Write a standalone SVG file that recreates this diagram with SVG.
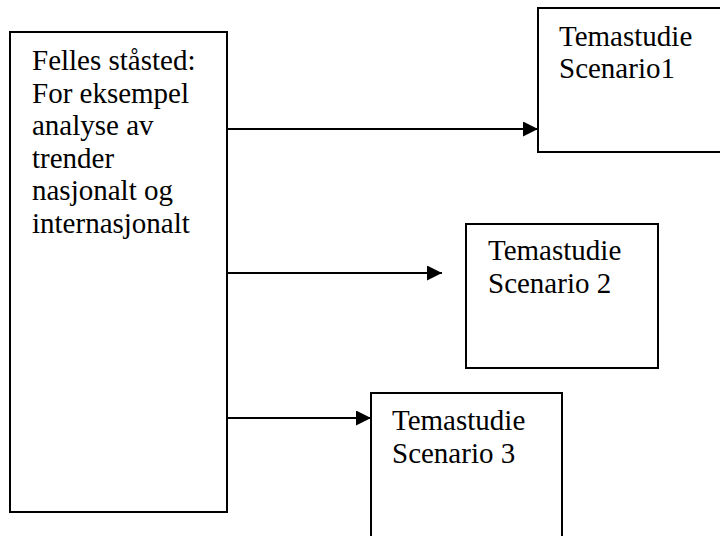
<svg xmlns="http://www.w3.org/2000/svg" width="720" height="536" viewBox="0 0 720 536">
<defs>
<style>
.box{fill:#fff;stroke:#000;stroke-width:2}
.t{font-family:"Liberation Serif","Times New Roman",serif;font-size:29px;fill:#000}
.c{stroke:#000;stroke-width:2;fill:none}
</style>
<marker id="ah" markerUnits="userSpaceOnUse" markerWidth="15" markerHeight="15" refX="15" refY="7.5" orient="auto">
<path d="M0,0 L15,7.5 L0,15 Z" fill="#000"/>
</marker>
</defs>
<rect width="720" height="536" fill="#fff"/>
<g id="node-main">
<rect class="box" x="10" y="32" width="217" height="480"/>
<text class="t"><tspan x="32" y="70">Felles ståsted:</tspan><tspan x="32" y="102.5">For eksempel</tspan><tspan x="32" y="135">analyse av</tspan><tspan x="32" y="167.5">trender</tspan><tspan x="32" y="200">nasjonalt og</tspan><tspan x="32" y="232.5">internasjonalt</tspan></text>
</g>
<g id="node-s1">
<rect class="box" x="538" y="8" width="190" height="144"/>
<text class="t"><tspan x="559" y="46">Temastudie</tspan><tspan x="559" y="78">Scenario1</tspan></text>
</g>
<g id="node-s2">
<rect class="box" x="466" y="224" width="192" height="144"/>
<text class="t"><tspan x="488" y="260">Temastudie</tspan><tspan x="488" y="293">Scenario 2</tspan></text>
</g>
<g id="node-s3">
<rect class="box" x="371" y="393" width="191" height="160"/>
<text class="t"><tspan x="392" y="430">Temastudie</tspan><tspan x="392" y="463">Scenario 3</tspan></text>
</g>
<g id="connectors">
<line class="c" x1="227" y1="129" x2="538" y2="129" marker-end="url(#ah)"/>
<line class="c" x1="227" y1="273" x2="442" y2="273" marker-end="url(#ah)"/>
<line class="c" x1="227" y1="418" x2="371" y2="418" marker-end="url(#ah)"/>
</g>
</svg>
